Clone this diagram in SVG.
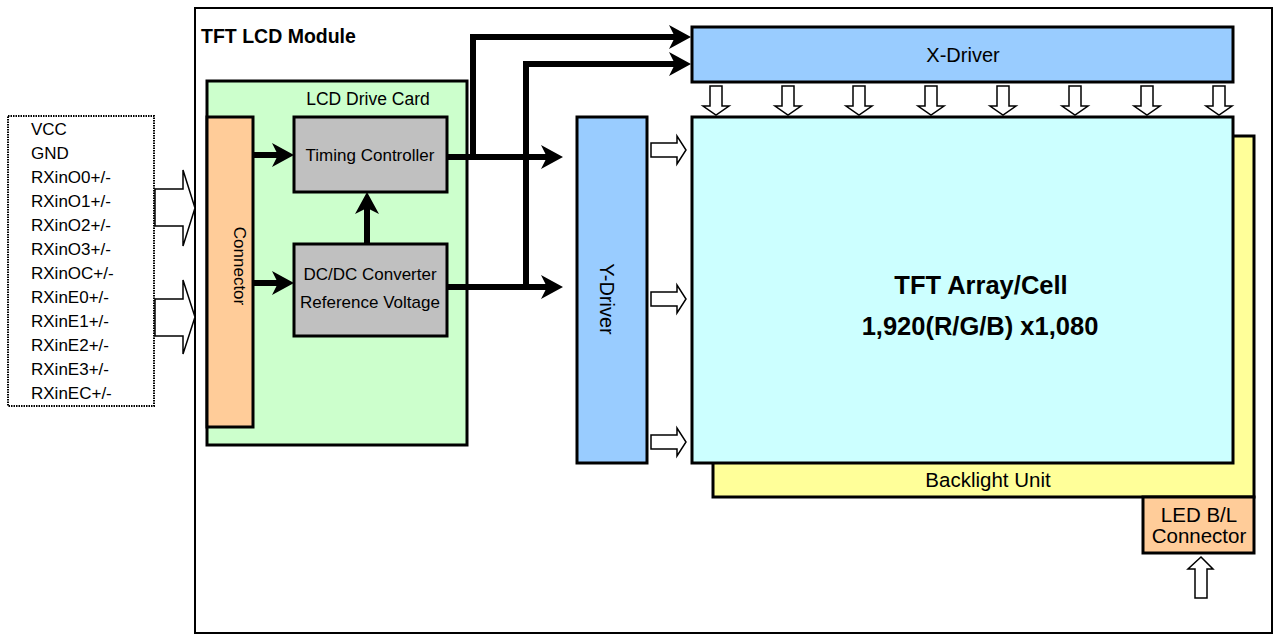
<svg xmlns="http://www.w3.org/2000/svg" width="1275" height="635" viewBox="0 0 1275 635">
<style>
text{font-family:"Liberation Sans",Arial,sans-serif;fill:#000}
.box{stroke:#000;stroke-width:3}
.hol{fill:#fff;stroke:#000;stroke-width:1.5;stroke-linejoin:miter}
.wire{fill:none;stroke:#000;stroke-width:6;stroke-linejoin:miter}
</style>
<defs>
<marker id="ah" markerUnits="userSpaceOnUse" viewBox="0 0 22 24" markerWidth="22" markerHeight="24" refX="10" refY="12" orient="auto">
<path d="M0,0 L22,12 L0,24 L6,12 z" fill="#000"/>
</marker>
</defs>
<rect width="1275" height="635" fill="#fff"/>
<g id="module">
<rect x="195" y="8" width="1077" height="625" fill="none" stroke="#000" stroke-width="2"/>
<text x="201" y="43" font-size="19.5" font-weight="bold">TFT LCD Module</text>
</g>
<g id="inputs">
<rect x="8" y="116" width="146" height="290" fill="#fff" stroke="#000" stroke-width="2" stroke-dasharray="1.5,1"/>
<g font-size="17">
<text x="31" y="135">VCC</text>
<text x="31" y="159">GND</text>
<text x="31" y="183">RXinO0+/-</text>
<text x="31" y="207">RXinO1+/-</text>
<text x="31" y="231">RXinO2+/-</text>
<text x="31" y="255">RXinO3+/-</text>
<text x="31" y="279">RXinOC+/-</text>
<text x="31" y="303">RXinE0+/-</text>
<text x="31" y="327">RXinE1+/-</text>
<text x="31" y="351">RXinE2+/-</text>
<text x="31" y="375">RXinE3+/-</text>
<text x="31" y="399">RXinEC+/-</text>
</g>
</g>
<g id="drive-card">
<rect class="box" x="207" y="81" width="260" height="364" fill="#CCFFCC"/>
<text x="368" y="105" font-size="17.5" text-anchor="middle">LCD Drive Card</text>
</g>
<g id="connector">
<rect class="box" x="207" y="117" width="46" height="310" fill="#FFCC99"/>
<text transform="translate(234,266) rotate(90)" font-size="17" text-anchor="middle">Connector</text>
</g>
<g id="timing-controller">
<rect class="box" x="294" y="117" width="153" height="75" fill="#C0C0C0"/>
<text x="370" y="161" font-size="17" text-anchor="middle">Timing Controller</text>
</g>
<g id="dcdc">
<rect class="box" x="294" y="244" width="153" height="92" fill="#C0C0C0"/>
<text x="370" y="280" font-size="17" text-anchor="middle">DC/DC Converter</text>
<text x="370" y="308" font-size="17" text-anchor="middle">Reference Voltage</text>
</g>
<g id="x-driver">
<rect class="box" x="692" y="27" width="541" height="55" fill="#99CCFF"/>
<text x="963" y="62" font-size="20" text-anchor="middle">X-Driver</text>
</g>
<g id="y-driver">
<rect class="box" x="577" y="117" width="70" height="346" fill="#99CCFF"/>
<text transform="translate(600,299) rotate(90)" font-size="20" text-anchor="middle">Y-Driver</text>
</g>
<g id="backlight">
<rect class="box" x="713" y="136" width="541" height="361" fill="#FFFF99"/>
<text x="988" y="487" font-size="20.5" text-anchor="middle">Backlight Unit</text>
</g>
<g id="tft-array">
<rect class="box" x="692" y="117" width="541" height="346" fill="#CCFFFF"/>
<text x="981" y="294" font-size="25.5" font-weight="bold" text-anchor="middle">TFT Array/Cell</text>
<text x="980" y="335" font-size="25.5" font-weight="bold" text-anchor="middle">1,920(R/G/B) x1,080</text>
</g>
<g id="led-connector">
<rect class="box" x="1143" y="497" width="111" height="56" fill="#FFCC99"/>
<text x="1199" y="522" font-size="20.5" text-anchor="middle">LED B/L</text>
<text x="1199" y="543" font-size="20.5" text-anchor="middle">Connector</text>
</g>
<g id="connectors">
<polygon class="hol" points="155,189 183,189 183,170 195,208 183,246 183,226 155,226"/>
<polygon class="hol" points="155,299 183,299 183,280 195,317 183,354 183,336 155,336"/>
<path class="wire" d="M253,155 L282,155" marker-end="url(#ah)"/>
<path class="wire" d="M253,283 L282,283" marker-end="url(#ah)"/>
<path class="wire" d="M367,244 L367,204" marker-end="url(#ah)"/>
<path class="wire" d="M447,157 L551,157" marker-end="url(#ah)"/>
<path class="wire" d="M473,157 L473,37 L679,37" marker-end="url(#ah)"/>
<path class="wire" d="M447,287 L551,287" marker-end="url(#ah)"/>
<path class="wire" d="M526,287 L526,64 L679,64" marker-end="url(#ah)"/>
<g id="x-arrows">
<polygon class="hol" points="710,86 722,86 722,106 729,106 716,115 703,106 710,106"/>
<polygon class="hol" points="782,86 794,86 794,106 801,106 788,115 775,106 782,106"/>
<polygon class="hol" points="853,86 865,86 865,106 872,106 859,115 846,106 853,106"/>
<polygon class="hol" points="925,86 937,86 937,106 944,106 931,115 918,106 925,106"/>
<polygon class="hol" points="997,86 1009,86 1009,106 1016,106 1003,115 990,106 997,106"/>
<polygon class="hol" points="1069,86 1081,86 1081,106 1088,106 1075,115 1062,106 1069,106"/>
<polygon class="hol" points="1141,86 1153,86 1153,106 1160,106 1147,115 1134,106 1141,106"/>
<polygon class="hol" points="1213,86 1225,86 1225,106 1232,106 1219,115 1206,106 1213,106"/>
</g>
<g id="y-arrows">
<polygon class="hol" points="651,143 677,143 677,136 686,150 677,164 677,157 651,157"/>
<polygon class="hol" points="651,292 677,292 677,285 686,299 677,313 677,306 651,306"/>
<polygon class="hol" points="651,435 677,435 677,428 686,442 677,456 677,449 651,449"/>
</g>
<polygon class="hol" points="1201,557 1213,569 1207,569 1207,598 1195,598 1195,569 1188,569"/>
</g>
</svg>
